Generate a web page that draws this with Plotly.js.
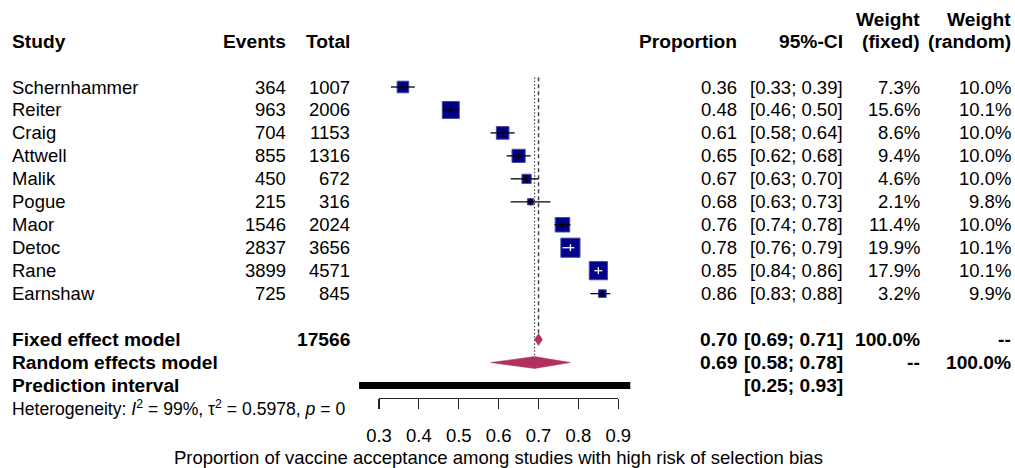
<!DOCTYPE html>
<html>
<head>
<meta charset="utf-8">
<script src="https://cdn.plot.ly/plotly-3.0.1.min.js"></script>
<style>
  html, body { margin: 0; padding: 0; background: #fff; }
  #chart { width: 1015px; height: 468px; }
</style>
</head>
<body>
<div id="chart"></div>
<script>
// ---- Study data ----
const studies = ["Schernhammer", "Reiter", "Craig", "Attwell", "Malik", "Pogue", "Maor", "Detoc", "Rane", "Earnshaw"];
const events = [364, 963, 704, 855, 450, 215, 1546, 2837, 3899, 725];
const totals = [1007, 2006, 1153, 1316, 672, 316, 2024, 3656, 4571, 845];
const proportion = [0.36, 0.48, 0.61, 0.65, 0.67, 0.68, 0.76, 0.78, 0.85, 0.86];
const ciLower = [0.33, 0.46, 0.58, 0.62, 0.63, 0.63, 0.74, 0.76, 0.84, 0.83];
const ciUpper = [0.39, 0.50, 0.64, 0.68, 0.70, 0.73, 0.78, 0.79, 0.86, 0.88];
const weightFixed = [7.3, 15.6, 8.6, 9.4, 4.6, 2.1, 11.4, 19.9, 17.9, 3.2];
const weightRandom = [10.0, 10.1, 10.0, 10.0, 10.0, 9.8, 10.0, 10.1, 10.1, 9.9];

// ---- Pooled estimates ----
const fixedEst = [0.70, 0.69, 0.71];     // estimate, lower, upper
const randomEst = [0.69, 0.58, 0.78];
const predInterval = [0.25, 0.93];
const heterogeneity = { I2: 99, tau2: 0.5978, p: 0 };

// ---- Axis ticks ----
const tickValues = [0.3, 0.4, 0.5, 0.6, 0.7, 0.8, 0.9];
const axisTitle = "Proportion of vaccine acceptance among studies with high risk of selection bias";

// ---- Page geometry (pixels) ----
const W = 1015, H = 468;
const axisPx0 = 379, axisPx1 = 618.3;            // where 0.3 and 0.9 sit
const pxPerUnit = (axisPx1 - axisPx0) / (0.9 - 0.3);
const rowTopPx = 87, rowStep = 22.96;            // first study row, row spacing
const FONT = "Liberation Sans, Arial, Helvetica, sans-serif";
const FS = 18.5;      // regular text
const FSB = 19.2;     // bold text

// data range of the full-width (hidden) x axis, same scale as the visible axis
const xRange = [0.3 - axisPx0 / pxPerUnit, 0.3 + (W - axisPx0) / pxPerUnit];
// rows: 0..9 studies, 11 fixed, 12 random, 13 prediction, 14 heterogeneity
const yRange = [(H - rowTopPx) / rowStep, -rowTopPx / rowStep];
const ROW_FIXED = 11, ROW_RANDOM = 12, ROW_PRED = 13, ROW_HET = 14;

const squareScale = 4.3;
const squareSize = weightFixed.map(w => squareScale * Math.sqrt(w));

const traces = [];

// reference lines: fixed (dashed) and random (dotted)
traces.push({
  x: [fixedEst[0], fixedEst[0]], y: [-0.43, ROW_FIXED - 0.26],
  mode: "lines", line: { color: "#444", width: 1.5, dash: "4px,3px" }, hoverinfo: "skip"
});
traces.push({
  x: [randomEst[0], randomEst[0]], y: [-0.43, ROW_RANDOM - 0.26],
  mode: "lines", line: { color: "#444", width: 1.2, dash: "1.5px,2px" }, hoverinfo: "skip"
});

// study squares
traces.push({
  x: proportion, y: studies.map((_, i) => i),
  mode: "markers",
  marker: { symbol: "square", size: squareSize, opacity: 1, color: "#00008B", line: { color: "#4a4aa0", width: 1 } },
  hoverinfo: "skip"
});

// confidence intervals: white when the interval sits inside its square
const ciBlack = { x: [], y: [] }, ciWhite = { x: [], y: [] };
studies.forEach((_, i) => {
  const half = squareSize[i] / 2;
  const inside = (proportion[i] - ciLower[i]) * pxPerUnit < half - 1 &&
                 (ciUpper[i] - proportion[i]) * pxPerUnit < half - 1;
  const t = inside ? ciWhite : ciBlack;
  t.x.push(ciLower[i], ciUpper[i], null, proportion[i], proportion[i], null);
  t.y.push(i, i, null, i - 0.15, i + 0.15, null);
});
traces.push({ x: ciBlack.x, y: ciBlack.y, mode: "lines", line: { color: "#000", width: 1.3 }, hoverinfo: "skip" });
traces.push({ x: ciWhite.x, y: ciWhite.y, mode: "lines", line: { color: "#fff", width: 1.3 }, hoverinfo: "skip" });

// pooled diamonds
function diamond(est, row, h) {
  return {
    x: [est[1], est[0], est[2], est[0], est[1]],
    y: [row, row - h, row, row + h, row],
    mode: "lines", fill: "toself", fillcolor: "#B03060",
    line: { color: "#B03060", width: 0.5 }, hoverinfo: "skip"
  };
}
traces.push(diamond(fixedEst, ROW_FIXED, 0.26));
traces.push(diamond(randomEst, ROW_RANDOM, 0.26));

// prediction interval bar
traces.push({
  x: predInterval, y: [ROW_PRED, ROW_PRED],
  mode: "lines", line: { color: "#000", width: 7 }, hoverinfo: "skip"
});

// placeholder on the visible axis subplot
traces.push({
  x: [0.3], y: [0], xaxis: "x2", yaxis: "y2",
  mode: "markers", marker: { opacity: 0 }, hoverinfo: "skip"
});

// ---- Table text ----
const ann = [];
const px = v => v / W;
function txt(text, xPx, row, anchor, bold, size) {
  ann.push({
    text: bold ? "<b>" + text + "</b>" : text,
    x: px(xPx), xref: "paper", xanchor: anchor,
    y: row, yref: "y", yanchor: "middle",
    showarrow: false, borderpad: 0,
    font: { family: FONT, size: size || (bold ? FSB : FS), color: "#000" }
  });
}
const COL = { study: 11, events: 287, total: 351, prop: 738, ci: 844, wf: 921, wr: 1012 };
const ciText = (lo, hi) => "[" + lo.toFixed(2) + "; " + hi.toFixed(2) + "]";

// headers
txt("Study", COL.study, -2, "left", true);
txt("Events", COL.events, -2, "right", true);
txt("Total", COL.total, -2, "right", true);
txt("Proportion", COL.prop, -2, "right", true);
txt("95%-CI", COL.ci, -2, "right", true);
txt("Weight", COL.wf, -2.95, "right", true);
txt("(fixed)", COL.wf, -2, "right", true);
txt("Weight", COL.wr, -2.95, "right", true);
txt("(random)", COL.wr, -2, "right", true);

// study rows
studies.forEach((s, i) => {
  txt(s, COL.study, i, "left", false);
  txt(String(events[i]), COL.events, i, "right", false);
  txt(String(totals[i]), COL.total, i, "right", false);
  txt(proportion[i].toFixed(2), COL.prop, i, "right", false);
  txt(ciText(ciLower[i], ciUpper[i]), COL.ci, i, "right", false);
  txt(weightFixed[i].toFixed(1) + "%", COL.wf, i, "right", false);
  txt(weightRandom[i].toFixed(1) + "%", COL.wr, i, "right", false);
});

// pooled rows
const totalN = totals.reduce((a, b) => a + b, 0);
txt("Fixed effect model", COL.study, ROW_FIXED, "left", true);
txt(String(totalN), COL.total, ROW_FIXED, "right", true);
txt(fixedEst[0].toFixed(2), COL.prop, ROW_FIXED, "right", true);
txt(ciText(fixedEst[1], fixedEst[2]), COL.ci, ROW_FIXED, "right", true);
txt("100.0%", COL.wf, ROW_FIXED, "right", true);
txt("--", COL.wr, ROW_FIXED, "right", true);

txt("Random effects model", COL.study, ROW_RANDOM, "left", true);
txt(randomEst[0].toFixed(2), COL.prop, ROW_RANDOM, "right", true);
txt(ciText(randomEst[1], randomEst[2]), COL.ci, ROW_RANDOM, "right", true);
txt("--", COL.wf, ROW_RANDOM, "right", true);
txt("100.0%", COL.wr, ROW_RANDOM, "right", true);

txt("Prediction interval", COL.study, ROW_PRED, "left", true);
txt(ciText(predInterval[0], predInterval[1]), COL.ci, ROW_PRED, "right", true);

txt("Heterogeneity: <i>I</i><sup>2</sup> = " + heterogeneity.I2 + "%, τ<sup>2</sup> = " +
    heterogeneity.tau2.toFixed(4) + ", <i>p</i> = " + heterogeneity.p,
    COL.study, ROW_HET, "left", false, 17.6);

// axis title
ann.push({
  text: axisTitle, x: px((axisPx0 + axisPx1) / 2), xref: "paper", xanchor: "center",
  y: (H - 457) / H, yref: "paper", yanchor: "middle", showarrow: false, borderpad: 0,
  font: { family: FONT, size: FS, color: "#000" }
});

const layout = {
  width: W, height: H,
  margin: { l: 0, r: 0, t: 0, b: 0, pad: 0 },
  paper_bgcolor: "#fff", plot_bgcolor: "rgba(0,0,0,0)",
  showlegend: false,
  font: { family: FONT, size: FS, color: "#000" },
  xaxis: { range: xRange, visible: false, fixedrange: true },
  yaxis: { range: yRange, visible: false, fixedrange: true },
  xaxis2: {
    domain: [axisPx0 / W, axisPx1 / W], range: [0.3, 0.9], anchor: "y2",
    tickvals: tickValues, ticktext: tickValues.map(v => v.toFixed(1)),
    ticks: "outside", ticklen: 10, tickwidth: 1.2, tickcolor: "#222",
    showline: true, linecolor: "#222", linewidth: 1.2,
    showgrid: false, zeroline: false, fixedrange: true,
    ticklabelstandoff: 11,
    tickfont: { family: FONT, size: FS, color: "#000" }
  },
  yaxis2: {
    domain: [(H - 398) / H, (H - 385) / H], range: [0, 1], anchor: "x2",
    visible: false, fixedrange: true
  },
  annotations: ann
};

Plotly.newPlot("chart", traces, layout, { staticPlot: true, displayModeBar: false });
</script>
</body>
</html>
